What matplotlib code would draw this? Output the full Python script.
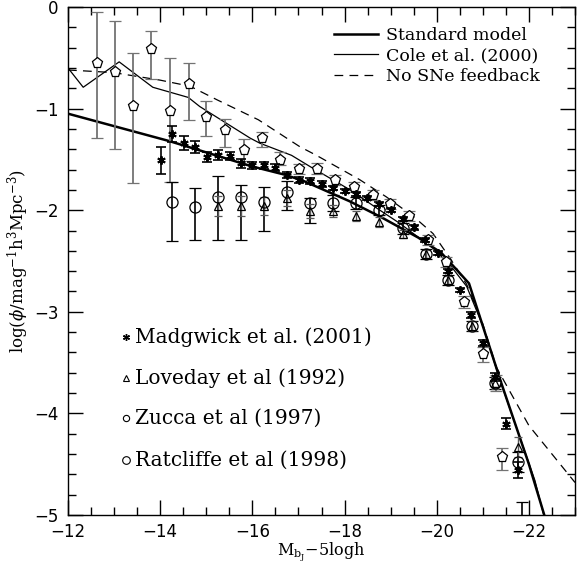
import numpy as np
import matplotlib
matplotlib.use('Agg')
import matplotlib.pyplot as plt
from matplotlib.ticker import MultipleLocator

# model curves
std_x = [-12.0, -14.2, -16.0, -16.7, -17.1, -18.1, -18.8, -19.6, -20.1, -20.7, -21.4, -22.0, -22.2, -22.4]
std_y = [-1.05, -1.32, -1.57, -1.65, -1.71, -1.91, -2.07, -2.27, -2.42, -2.72, -3.70, -4.50, -4.80, -5.10]

cole_x = [-12.0, -12.33, -13.11, -13.84, -14.61, -14.86, -15.95, -16.16, -16.85, -17.25, -18.12, -18.7,
          -19.2, -19.64, -19.92, -20.29, -20.65, -21.01, -21.37, -22.13, -22.35]
cole_y = [-0.60, -0.79, -0.54, -0.79, -0.89, -0.98, -1.29, -1.34, -1.46, -1.57, -1.80, -1.98,
          -2.13, -2.28, -2.375, -2.54, -2.75, -3.15, -3.67, -4.66, -5.05]

nosn_x = [-12.0, -12.98, -14.0, -14.65, -15.24, -16.13, -17.03, -17.39, -18.33, -18.91, -19.49, -19.92,
          -20.3, -20.65, -21.0, -21.3, -22.0, -23.0]
nosn_y = [-0.62, -0.645, -0.72, -0.78, -0.915, -1.11, -1.375, -1.46, -1.70, -1.87, -2.06, -2.23,
          -2.48, -2.73, -3.12, -3.55, -4.12, -4.68]

# Madgwick et al. (2001)
mad_x = [-14.02, -14.26, -14.51, -14.76, -15.02, -15.25, -15.51, -15.76, -16.0, -16.25, -16.5, -16.76,
         -17.01, -17.25, -17.5, -17.76, -18.01, -18.25, -18.49, -18.75, -19.0, -19.26, -19.5, -19.74,
         -20.02, -20.25, -20.5, -20.74, -21.0, -21.26, -21.5, -21.77]
mad_y = [-1.51, -1.25, -1.34, -1.38, -1.48, -1.46, -1.47, -1.54, -1.56, -1.56, -1.58, -1.65,
         -1.70, -1.71, -1.745, -1.785, -1.81, -1.84, -1.88, -1.94, -2.00, -2.09, -2.17, -2.29,
         -2.42, -2.60, -2.79, -3.03, -3.31, -3.64, -4.10, -4.56]
mad_err = [0.13, 0.08, 0.07, 0.06, 0.05, 0.05, 0.04, 0.04, 0.03, 0.03, 0.03, 0.03,
           0.03, 0.03, 0.03, 0.02, 0.02, 0.02, 0.02, 0.02, 0.02, 0.02, 0.02, 0.02,
           0.02, 0.02, 0.02, 0.03, 0.03, 0.04, 0.05, 0.08]

# Loveday et al (1992)
lov_x = [-15.26, -15.75, -16.26, -16.76, -17.26, -17.75, -18.25, -18.74, -19.26, -19.76, -20.25, -20.76,
         -21.26, -21.77]
lov_y = [-1.96, -1.96, -1.96, -1.88, -2.01, -2.01, -2.06, -2.12, -2.23, -2.43, -2.69, -3.14,
         -3.70, -4.33]
lov_err = [0.10, 0.10, 0.09, 0.08, 0.07, 0.06, 0.05, 0.05, 0.04, 0.04, 0.04, 0.05, 0.06, 0.10]

# Zucca et al (1997)
zuc_x = [-12.63, -13.01, -13.41, -13.80, -14.22, -14.62, -15.0, -15.41, -15.81, -16.20, -16.61, -17.02,
         -17.41, -17.79, -18.21, -18.61, -18.99, -19.40, -19.82, -20.2, -20.6, -21.01, -21.28, -21.41]
zuc_y = [-0.55, -0.64, -0.97, -0.41, -1.02, -0.76, -1.08, -1.21, -1.41, -1.29, -1.51, -1.595,
         -1.59, -1.70, -1.77, -1.85, -1.94, -2.06, -2.29, -2.51, -2.90, -3.42, -3.70, -4.43]
zuc_up = [0.50, 0.505, 0.52, 0.17, 0.52, 0.21, 0.15, 0.11, 0.11, 0.06, 0.08, 0.05,
          0.05, 0.05, 0.05, 0.05, 0.05, 0.05, 0.05, 0.05, 0.06, 0.07, 0.08, 0.09]
zuc_lo = [0.74, 0.76, 0.76, 0.30, 0.70, 0.35, 0.19, 0.165, 0.11, 0.085, 0.045, 0.05,
          0.05, 0.05, 0.05, 0.05, 0.05, 0.05, 0.05, 0.05, 0.06, 0.07, 0.08, 0.13]

# Ratcliffe et al (1998)
rat_x = [-14.26, -14.75, -15.26, -15.75, -16.26, -16.76, -17.26, -17.75, -18.25, -18.74, -19.26, -19.76,
         -20.25, -20.76, -21.26, -21.77, -21.85]
rat_y = [-1.92, -1.97, -1.87, -1.87, -1.92, -1.82, -1.93, -1.93, -1.93, -2.00, -2.18, -2.43,
         -2.69, -3.14, -3.70, -4.48, -5.40]
rat_up = [0.20, 0.185, 0.21, 0.12, 0.15, 0.11, 0.05, 0.08, 0.06, 0.05, 0.05, 0.05,
          0.05, 0.05, 0.06, 0.10, 0.53]
rat_lo = [0.38, 0.32, 0.42, 0.42, 0.28, 0.18, 0.20, 0.08, 0.06, 0.05, 0.05, 0.05,
          0.05, 0.05, 0.06, 0.10, 1.0]

plt.rcParams['font.family'] = 'DejaVu Serif'
plt.rcParams['mathtext.fontset'] = 'dejavuserif'

fig = plt.figure(figsize=(5.79, 5.63), dpi=100)
ax = fig.add_axes([68/579, 1-515/563, (575-68)/579, (515-7)/563])

ax.plot(std_x, std_y, color='black', lw=1.8, label='Standard model')
ax.plot(cole_x, cole_y, color='black', lw=0.9, label='Cole et al. (2000)')
ax.plot(nosn_x, nosn_y, color='black', lw=0.9, ls=(0, (7, 5)), label='No SNe feedback')

ax.errorbar(zuc_x, zuc_y, yerr=[zuc_lo, zuc_up], fmt='p', mfc='white', mec='black', ms=8, mew=0.9,
            ecolor='0.45', elinewidth=1.3, capsize=4, capthick=1.3, zorder=3)
ax.errorbar(rat_x, rat_y, yerr=[rat_lo, rat_up], fmt='o', mfc='none', mec='black', ms=8, mew=0.9,
            ecolor='black', elinewidth=1.2, capsize=4, capthick=1.2, zorder=3)
ax.errorbar(lov_x, lov_y, yerr=lov_err, fmt='^', mfc='none', mec='black', ms=6, mew=0.9,
            ecolor='0.35', elinewidth=1.0, capsize=3, capthick=1.0, zorder=3)
ax.errorbar(mad_x, mad_y, yerr=mad_err, fmt='none', ecolor='black', elinewidth=1.2,
            capsize=3.5, capthick=1.2, zorder=4)
ax.plot(mad_x, mad_y, ls='none', marker=(6, 2, 0), ms=6, mew=1.4, color='black', zorder=4)

ax.set_xlim(-12, -23)
ax.set_ylim(-5, 0)
ax.xaxis.set_major_locator(MultipleLocator(2))
ax.xaxis.set_minor_locator(MultipleLocator(0.5))
ax.yaxis.set_major_locator(MultipleLocator(1))
ax.yaxis.set_minor_locator(MultipleLocator(0.2))
ax.tick_params(which='both', direction='in', top=True, right=True, width=1.0)
ax.tick_params(which='major', length=11, labelsize=12)
ax.tick_params(axis='x', which='major', pad=6)
ax.tick_params(axis='y', which='major', pad=7)
ax.tick_params(which='minor', length=5.5)
for lab in ax.get_xticklabels() + ax.get_yticklabels():
    lab.set_family('DejaVu Sans')
for s in ax.spines.values():
    s.set_linewidth(1.0)

ax.set_xlabel(r'M$_{\rm b_J}$$-$5logh', fontsize=11.5, labelpad=-1)
ax.set_ylabel(r'log($\phi$/mag$^{-1}$h$^3$Mpc$^{-3}$)', fontsize=12, labelpad=2)

leg = ax.legend(loc='upper right', bbox_to_anchor=(0.945, 0.975), frameon=False, fontsize=12.5,
                handlelength=2.5, handletextpad=0.5, labelspacing=0.2, borderaxespad=0)

# data-set key in the lower left
keys = [((6, 2, 0), 'Madgwick et al. (2001)', -3.25),
        ('^', 'Loveday et al (1992)', -3.65),
        ('o', 'Zucca et al (1997)', -4.05),
        ('o', 'Ratcliffe et al (1998)', -4.46)]
for i, (m, txt, yy) in enumerate(keys):
    if i == 0:
        ax.plot([-13.25], [yy], marker=m, ms=5, mew=1.0, color='black', ls='none')
    else:
        ax.plot([-13.25], [yy], marker=m, ms=4.5 if i < 3 else 5.5, mfc='none', mec='black',
                mew=0.8, ls='none')
    ax.text(-13.45, yy, txt, fontsize=14.5, va='center', ha='left')

fig.savefig('out.png', dpi=100)
